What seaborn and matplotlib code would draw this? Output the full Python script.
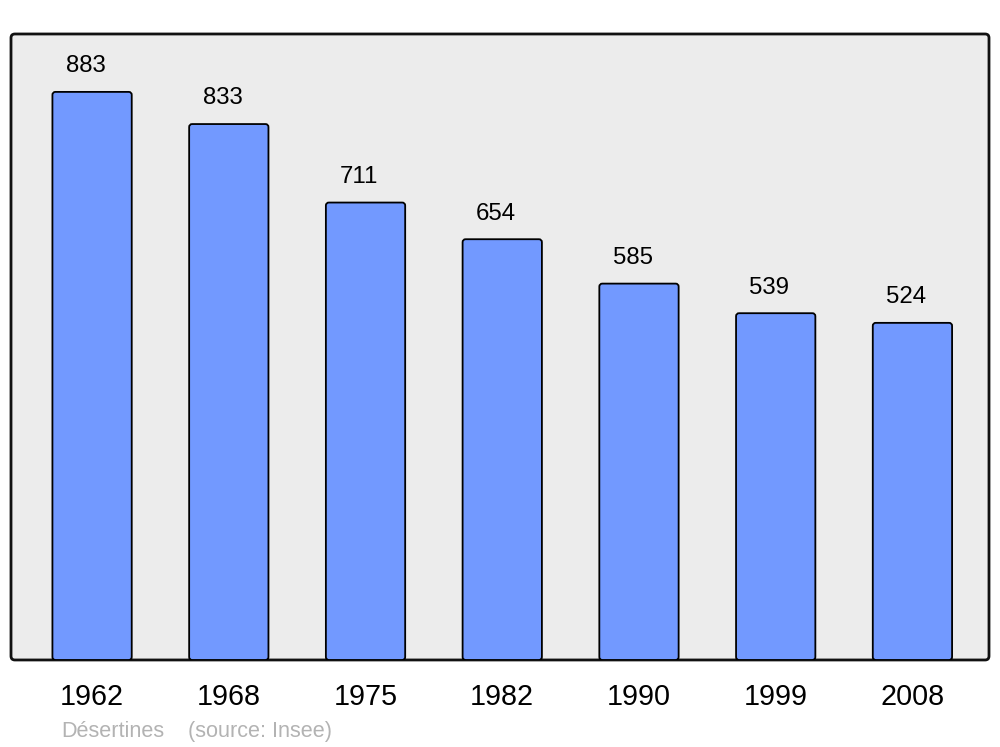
import matplotlib
matplotlib.use("Agg")
import matplotlib.pyplot as plt
from matplotlib.patches import FancyBboxPatch
import seaborn as sns
import pandas as pd

# population data
years = ['1962', '1968', '1975', '1982', '1990', '1999', '2008']
population = [883, 833, 711, 654, 585, 539, 524]

sns.set_style("white")
plt.rcParams['font.family'] = ['Liberation Sans', 'DejaVu Sans']
plt.rcParams['text.color'] = 'black'
plt.rcParams['xtick.color'] = 'black'

df = pd.DataFrame({'year': years, 'pop': population})

fig = plt.figure(figsize=(10, 7.47), dpi=100)
ax = fig.add_axes([0.011, 0.1165, 0.978, 0.838])
ax.set_facecolor('none')

sns.barplot(data=df, x='year', y='pop', color='#7299ff', saturation=1,
            width=0.58, edgecolor='black', linewidth=1.3, ax=ax, zorder=3)

ax.set_xlim(-0.593, 6.56)
ax.set_ylim(0, 973)

# px per data unit, used to keep corners round
asp = (973 / 626) / (7.153 / 978)

# swap the plain bars for rounded ones
for p in list(ax.patches):
    x, y = p.get_x(), p.get_y()
    w, h = p.get_width(), p.get_height()
    fb = FancyBboxPatch((x, y), w, h,
                        boxstyle="round,pad=0,rounding_size=0.022",
                        mutation_aspect=asp, facecolor='#7299ff',
                        edgecolor='black', linewidth=1.3, zorder=3)
    p.remove()
    ax.add_patch(fb)

# grey frame with rounded corners
frame = FancyBboxPatch((0, 0), 1, 1, boxstyle="round,pad=0,rounding_size=0.004",
                       mutation_aspect=978 / 626, transform=ax.transAxes,
                       facecolor='#ececec', edgecolor='#111111', linewidth=2,
                       zorder=0, clip_on=False)
ax.add_patch(frame)

# value labels
for i, v in enumerate(population):
    ax.annotate(str(v), (i, v), xytext=(-4.5, 18.5), textcoords='offset points',
                ha='center', va='center', fontsize=17.3, color='black', zorder=5)

for s in ax.spines.values():
    s.set_visible(False)
ax.set_yticks([])
ax.set_xlabel('')
ax.set_ylabel('')
ax.tick_params(axis='x', length=0, pad=16.5, labelsize=20.7, labelcolor='black')

fig.text(0.061, 0.0134, 'Désertines', color='#b3b3b3', fontsize=15.6, va='baseline')
fig.text(0.188, 0.0134, '(source: Insee)', color='#b3b3b3', fontsize=15.6, va='baseline')

fig.savefig('out.png', dpi=100)
